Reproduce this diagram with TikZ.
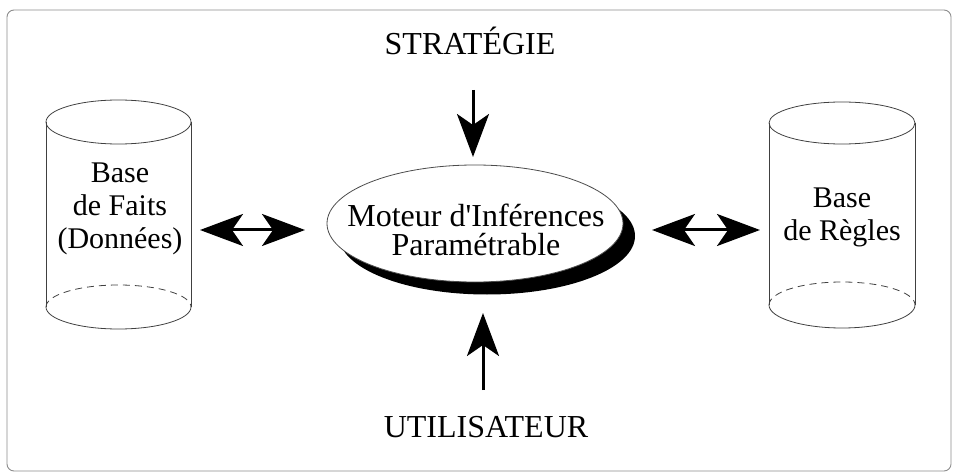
\documentclass[tikz,border=0pt]{standalone}
\usepackage{fontspec}
\setmainfont{Liberation Serif}
\usetikzlibrary{arrows.meta,shapes.geometric}
\begin{document}
\begin{tikzpicture}[x=1pt,y=-1pt,
  thin line/.style={draw=black!75,line width=0.8pt},
  bigarrow/.style={line width=3pt,-{Stealth[length=43pt,width=32pt,inset=11pt]}},
  dblarrow/.style={line width=3pt,{Stealth[length=43pt,width=32pt,inset=11pt]}-{Stealth[length=43pt,width=32pt,inset=11pt]}},
  lbl/.style={font=\fontsize{32}{29}\selectfont,inner sep=0pt},
  cyltxt/.style={font=\fontsize{30}{33}\selectfont,align=center,inner sep=0pt}]
\useasboundingbox (0,0) rectangle (953,473);
% frame
\draw[draw=black!45,line width=0.9pt,rounded corners=7pt] (7,10) rectangle (951,471);
% left cylinder
\draw[thin line] (46,122) -- (46,307) (191,122) -- (191,307);
\draw[thin line] (118.5,122) ellipse [x radius=72.5, y radius=22];
\draw[thin line,dashed,dash pattern=on 7pt off 5pt] (46,307) arc[start angle=180,end angle=360,x radius=72.5,y radius=22];
\draw[thin line] (46,307) arc[start angle=180,end angle=0,x radius=72.5,y radius=22];
\node[cyltxt] (faits) at (120,209) {Base\\de Faits\\(Données)};
% right cylinder
\draw[thin line] (769,123) -- (769,305) (915,123) -- (915,305);
\draw[thin line] (842,123) ellipse [x radius=73, y radius=21];
\draw[thin line,dashed,dash pattern=on 7pt off 5pt] (769,305) arc[start angle=180,end angle=360,x radius=73,y radius=23];
\draw[thin line] (769,305) arc[start angle=180,end angle=0,x radius=73,y radius=23];
\node[cyltxt] (regles) at (842,217) {Base\\de Règles};
% engine ellipse with shadow
\fill[black] (487,236) ellipse [x radius=148, y radius=58.5];
\node[ellipse,draw=black!70,line width=0.8pt,fill=white,minimum width=296pt,minimum height=117pt,inner sep=0pt] (moteur) at (475,223.5) {};
\node[lbl,align=center] (moteurtxt) at (476,230) {Moteur d\textquotesingle Inférences\\Paramétrable};
% labels
\node[lbl,anchor=base] (strat) at (470,55) {STRATÉGIE};
\node[lbl,anchor=base] (util) at (486,437) {UTILISATEUR};
% arrow endpoints
\coordinate (sA) at (473,90);
\coordinate (sB) at (473,157);
\coordinate (uA) at (483,390);
\coordinate (uB) at (483,313);
\coordinate (lA) at (200,230);
\coordinate (lB) at (305,230);
\coordinate (rA) at (652,230);
\coordinate (rB) at (760,230);
\draw[bigarrow] (sA) -- (sB);
\draw[bigarrow] (uA) -- (uB);
\draw[dblarrow] (lA) -- (lB);
\draw[dblarrow] (rA) -- (rB);
\end{tikzpicture}
\end{document}
